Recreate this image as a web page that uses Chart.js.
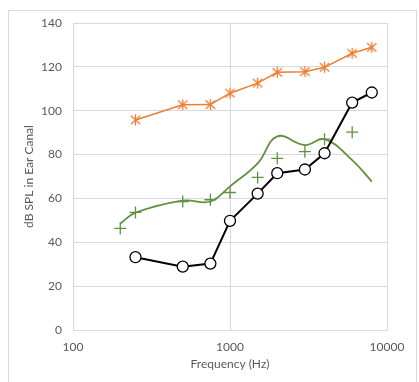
<!DOCTYPE html>
<html>
<head>
<meta charset="utf-8">
<script src="https://cdn.jsdelivr.net/npm/chart.js@4"></script>
<style>
  body { margin: 0; background: #fff; }
  #wrap { position: relative; width: 419px; height: 382px; }
  #frame { position: absolute; left: 8px; top: 10px; width: 407px; height: 380px; border: 1px solid #d9d9d9; }
  #chart { position: absolute; left: 0; top: 0; }
</style>
</head>
<body>
<div id="wrap">
  <div id="frame"></div>
  <canvas id="chart" width="419" height="382"></canvas>
</div>
<script>
const freqs = [250, 500, 750, 1000, 1500, 2000, 3000, 4000, 6000, 8000];
const upperLevels = [95.8, 102.7, 102.8, 108, 112.6, 117.5, 117.8, 119.8, 126.2, 128.9];
const thresholds = [33.2, 28.9, 30.3, 49.8, 62.2, 71.5, 73.2, 80.6, 103.7, 108.3];

const targetFreqs = [200, 250, 500, 750, 1000, 1500, 2000, 3000, 4000, 6000];
const targetLevels = [46.3, 53.6, 58.6, 59.4, 62.7, 69.6, 78.3, 81.3, 87, 90.2];

const responseFreqs = [200, 250, 500, 750, 1000, 1500, 2000, 3000, 4000, 6000, 8000];
const responseLevels = [48.5, 53.5, 59, 58.6, 65.5, 76, 88.3, 84.3, 87, 77.5, 67.7];

const xTicks = [100, 1000, 10000];

const orange = '#ed7d31';
const green = '#5f9140';

const pts = (xs, ys) => xs.map((x, i) => ({ x: x, y: ys[i] }));

// six-armed asterisk marker
function asterisk(color) {
  const c = document.createElement('canvas');
  c.width = 13; c.height = 13;
  const g = c.getContext('2d');
  g.strokeStyle = color;
  g.lineWidth = 1.3;
  g.beginPath();
  g.moveTo(6.5, 1); g.lineTo(6.5, 12);
  g.moveTo(1.8, 2.3); g.lineTo(11.2, 10.7);
  g.moveTo(11.2, 2.3); g.lineTo(1.8, 10.7);
  g.stroke();
  return c;
}

new Chart(document.getElementById('chart'), {
  type: 'line',
  data: {
    datasets: [
      {
        data: pts(thresholds.map((_, i) => freqs[i]), thresholds),
        borderColor: '#000',
        borderWidth: 2,
        pointRadius: 5.5,
        pointBorderWidth: 1.3,
        pointBackgroundColor: '#fff',
        pointBorderColor: '#000',
        tension: 0,
        order: 0
      },
      {
        data: pts(freqs, upperLevels),
        borderColor: orange,
        borderWidth: 1.5,
        pointStyle: asterisk(orange),
        tension: 0,
        order: 1
      },
      {
        data: pts(responseFreqs, responseLevels),
        borderColor: green,
        borderWidth: 1.8,
        pointRadius: 0,
        tension: 0.4,
        order: 2
      },
      {
        data: pts(targetFreqs, targetLevels),
        showLine: false,
        pointStyle: 'cross',
        pointRadius: 6,
        pointBorderWidth: 1.3,
        pointBorderColor: green,
        order: 3
      }
    ]
  },
  options: {
    responsive: false,
    animation: false,
    layout: { padding: { left: 18, top: 23, right: 32, bottom: 7 } },
    plugins: { legend: { display: false }, tooltip: { enabled: false } },
    scales: {
      x: {
        type: 'logarithmic',
        min: 100,
        max: 10000,
        afterBuildTicks: s => { s.ticks = xTicks.map(v => ({ value: v })); },
        afterFit: s => { s.height = 45; },
        grid: { color: '#d9d9d9', drawTicks: false },
        border: { color: '#d9d9d9' },
        ticks: {
          padding: 10,
          color: '#595959',
          font: { family: 'Lato', size: 12 },
          maxRotation: 0,
          callback: v => String(v)
        },
        title: {
          display: true,
          text: 'Frequency (Hz)',
          color: '#595959',
          font: { family: 'Lato', size: 12 }
        }
      },
      y: {
        min: 0,
        max: 140,
        afterFit: s => { s.width = 55; },
        grid: { color: '#d9d9d9', drawTicks: false },
        border: { color: '#d9d9d9' },
        ticks: {
          stepSize: 20,
          padding: 11,
          color: '#595959',
          font: { family: 'Lato', size: 12 }
        },
        title: {
          display: true,
          text: 'dB SPL in Ear Canal',
          color: '#595959',
          font: { family: 'Lato', size: 12 }
        }
      }
    }
  }
});
</script>
</body>
</html>
